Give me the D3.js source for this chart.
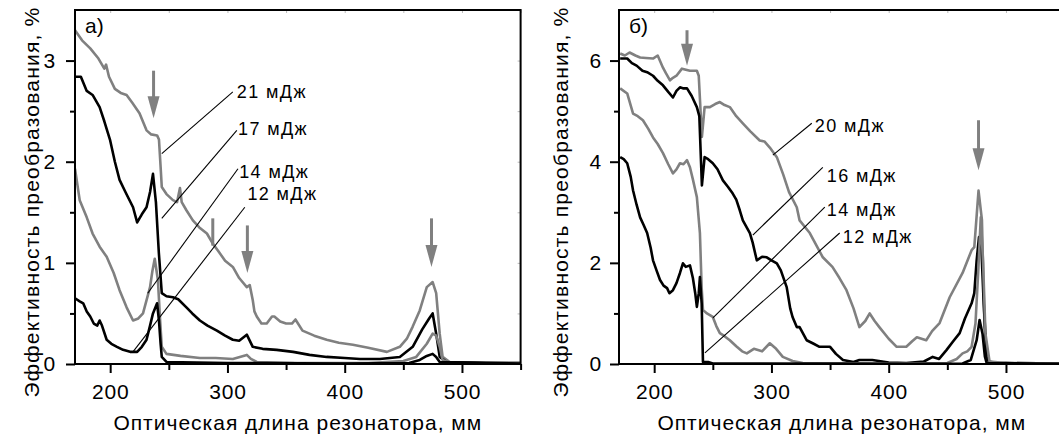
<!DOCTYPE html>
<html>
<head>
<meta charset="utf-8">
<script src="https://cdn.jsdelivr.net/npm/d3@7/dist/d3.min.js"></script>
<style>
  body { margin: 0; background: #fff; }
  svg { font-family: "Liberation Sans", Arial, sans-serif; }
</style>
</head>
<body>
<div id="chart"></div>
<script>
// ---- data (x: optical cavity length, mm; y: efficiency, %)
const xTicks = [200, 300, 400, 500];
const yTicksA = [0, 1, 2, 3];
const yTicksB = [0, 2, 4, 6];

// panel a)
const a21 = [[170,3.30],[176,3.20],[183,3.12],[190,3.02],[195,2.92],[196.5,2.96],[199,2.84],[204,2.72],[209,2.68],[214,2.66],[219,2.58],[225,2.48],[231,2.31],[235,2.27],[240,2.26],[241.6,2.22],[243,1.95],[244,1.75],[248,1.68],[253.5,1.62],[257,1.60],[259.5,1.74],[261,1.60],[265,1.52],[270.5,1.42],[276,1.35],[282.5,1.29],[287.5,1.19],[292,1.12],[298,1.02],[304.6,0.96],[310,0.85],[316.5,0.76],[319,0.78],[321.6,0.63],[323,0.52],[325,0.47],[329,0.40],[333.5,0.40],[338,0.47],[340,0.47],[345,0.42],[350,0.40],[355,0.40],[358,0.44],[364,0.33],[374,0.28],[384.6,0.24],[395,0.21],[407,0.19],[420,0.16],[436,0.12],[447,0.17],[453,0.25],[458,0.37],[464,0.53],[470,0.76],[475,0.81],[478,0.70],[481,0.30],[483.5,0.07],[489.5,0.02],[520,0.01],[550,0.01]];
const a17 = [[170,2.84],[175,2.84],[180,2.70],[185,2.66],[191,2.54],[195,2.40],[200,2.21],[204,2.00],[208,1.82],[213,1.70],[219.5,1.55],[223,1.40],[227,1.48],[231,1.55],[234,1.70],[236.5,1.88],[239,1.60],[241.5,1.10],[244,0.70],[248,0.67],[253.5,0.66],[258,0.64],[265,0.56],[270,0.50],[276.5,0.43],[283,0.38],[291,0.33],[298,0.28],[304.6,0.24],[310,0.23],[316.5,0.29],[321.6,0.17],[330,0.15],[342,0.14],[356,0.12],[370,0.09],[384.6,0.07],[400,0.06],[413,0.05],[430,0.05],[447,0.07],[458,0.17],[466,0.34],[472,0.45],[475,0.50],[478,0.30],[481,0.07],[487,0.02],[520,0.01],[550,0.01]];
const a14 = [[170,1.93],[174,1.62],[180,1.45],[185,1.29],[191,1.16],[197,1.06],[203,0.90],[208,0.73],[214,0.56],[219.5,0.43],[224,0.45],[228,0.50],[234,0.76],[236,0.92],[238,1.04],[240.7,0.83],[242.5,0.45],[244,0.17],[248,0.10],[260,0.08],[276.5,0.06],[290,0.06],[304.6,0.05],[316.5,0.09],[320,0.05],[325,0.02],[360,0.01],[420,0.01],[450,0.03],[461,0.07],[470,0.20],[475,0.30],[478,0.28],[481,0.17],[483.5,0.04],[490,0.01],[550,0.01]];
const a12 = [[170,0.65],[174,0.62],[177,0.60],[180,0.52],[183,0.47],[186,0.40],[189,0.38],[191,0.43],[193,0.38],[197,0.24],[201,0.20],[205.8,0.17],[211,0.14],[217,0.12],[223,0.12],[227,0.17],[231,0.24],[234,0.38],[236.5,0.50],[240,0.60],[241.6,0.43],[243,0.20],[244,0.07],[248,0.02],[300,0.01],[400,0.005],[455,0.01],[464,0.04],[470,0.08],[475,0.10],[478,0.07],[481,0.02],[550,0.005]];

// panel б)
const b20 = [[171,6.14],[175,6.10],[179,6.16],[184,6.10],[188,6.06],[193,6.05],[199,6.04],[203,6.10],[207.5,5.86],[210,5.75],[213.5,5.61],[216,5.66],[219,5.70],[223.7,5.84],[227,5.82],[230.5,5.80],[233,5.80],[236.4,5.80],[238,5.70],[240.7,4.49],[243,5.08],[247.5,5.08],[252,5.14],[256,5.18],[260,5.12],[264.5,5.08],[270,4.90],[275.6,4.76],[282,4.60],[290,4.42],[294,4.40],[298.6,4.28],[304.6,4.09],[310,3.75],[315,3.40],[321.6,3.10],[324,2.84],[332.7,2.59],[343.8,2.11],[352,1.92],[358,1.70],[364,1.46],[370,1.10],[375,0.73],[380,0.85],[383.8,1.0],[388,0.85],[392,0.73],[400,0.50],[406.8,0.34],[415,0.34],[420,0.45],[424,0.53],[432,0.47],[437,0.65],[443.4,0.81],[452,1.32],[463,1.80],[470.7,2.25],[473,2.31],[476.6,3.43],[479.5,2.85],[481.7,0.73],[483.5,0.08],[490,0.02],[500,0.03],[510,0.01],[550,0.01]];
const b16 = [[171,6.04],[177,6.04],[181,5.95],[185,5.90],[190,5.80],[194,5.77],[199,5.70],[203,5.60],[207.5,5.51],[212,5.38],[216,5.27],[219,5.40],[222,5.47],[225,5.45],[228,5.45],[232,5.30],[236.4,5.08],[238.5,4.90],[240.7,3.53],[243,4.09],[246,4.05],[250,3.97],[254,3.85],[258.6,3.63],[263,3.50],[267,3.37],[270,3.25],[273,3.04],[275.6,2.84],[281.6,2.59],[284,2.40],[287.5,2.05],[292,2.12],[296,2.11],[300,2.05],[304.6,1.99],[308,1.85],[313,1.52],[316,1.10],[318,0.93],[321.6,0.73],[324,0.73],[330,0.47],[336,0.40],[341,0.34],[350,0.34],[355,0.20],[361,0.08],[370,0.04],[375,0.08],[386,0.08],[400,0.03],[415,0.02],[430,0.05],[437.5,0.14],[443,0.10],[449.4,0.28],[455,0.45],[460.5,0.61],[465,0.90],[470.7,1.20],[473,1.40],[475,2.05],[477,2.51],[479,2.31],[481,1.20],[483.5,0.15],[486,0.02],[550,0.01]];
const b14 = [[171,5.45],[177,5.35],[182,4.95],[186,4.90],[190.4,4.82],[195,4.65],[199,4.48],[203,4.35],[207.5,4.17],[212,3.95],[216,3.77],[219,3.85],[222,3.97],[225,3.95],[228,4.03],[230.5,3.89],[233,3.65],[236.4,3.30],[239,2.59],[240.5,1.50],[241.6,1.07],[245,1.00],[250,0.93],[253,0.75],[256,0.61],[260,0.55],[264.5,0.47],[270,0.35],[275,0.25],[279,0.21],[285,0.30],[292,0.25],[298.6,0.41],[304,0.30],[309.7,0.14],[318,0.06],[326.7,0.02],[400,0.01],[450,0.02],[458,0.10],[463,0.21],[467,0.25],[470.7,0.34],[474,0.80],[476.5,1.90],[478.5,2.90],[480.5,2.00],[482.5,0.60],[486,0.05],[500,0.02],[550,0.01]];
const b12 = [[171,4.09],[174,4.05],[177,3.97],[180,3.70],[182,3.43],[185,3.15],[188,2.90],[191,2.75],[194,2.59],[197,2.30],[199,2.05],[202,1.85],[205,1.66],[208,1.55],[211,1.50],[213,1.40],[216,1.46],[219,1.60],[222,1.80],[224.5,1.99],[227,1.92],[230.5,1.95],[233,1.70],[235,1.40],[236.4,1.13],[238,1.40],[239,1.72],[240.5,1.20],[241.6,0.04],[246,0.04],[250,0.01],[400,0.005],[463,0.01],[470,0.08],[475,0.47],[477.5,0.87],[480,0.60],[482,0.15],[483.5,0.02],[550,0.005]];

// energy labels: [label, curve point, line end, text point]
const notesA = [
  ["21 мДж", [244, 2.08], [304.6, 2.69], [308, 2.63]],
  ["17 мДж", [244, 1.44], [308, 2.31], [309, 2.26]],
  ["14 мДж", [232, 0.70], [309, 1.93], [310, 1.84]],
  ["12 мДж", [219.4, 0.12], [314.8, 1.55], [317, 1.62]]
];
const notesB = [
  ["20 мДж", [301.2, 4.13], [334.4, 4.76], [337, 4.58]],
  ["16 мДж", [284.1, 2.55], [343.8, 3.89], [347.2, 3.59]],
  ["14 мДж", [250.1, 0.91], [345.5, 3.10], [347.2, 2.92]],
  ["12 мДж", [243.3, 0.22], [358.2, 2.59], [360.8, 2.39]]
];
// arrows: [x, yFrom, yTo, head?]
const arrowsA = [[237, 2.90, 2.43, 1], [287.5, 1.44, 1.17, 0], [317, 1.37, 0.90, 1], [474, 1.44, 0.96, 1]];
const arrowsB = [[228, 6.6, 5.9, 1], [476.6, 4.82, 3.83, 1]];

const GRAY = "#808080";
const W = 1059, H = 438;
const plotTop = 10, plotBottom = 364;

const svg = d3.select("#chart").append("svg")
  .attr("width", W).attr("height", H);

function panel(opt) {
  const x = d3.scaleLinear().domain([170, 550]).range([opt.left, opt.left + 445.6]);
  const y = d3.scaleLinear().domain([0, opt.ymax]).range([plotBottom, plotTop]);
  const g = svg.append("g");

  const clipId = "clip" + opt.id;
  svg.append("clipPath").attr("id", clipId).append("rect")
    .attr("x", x.range()[0]).attr("y", plotTop)
    .attr("width", x.range()[1] - x.range()[0]).attr("height", plotBottom - plotTop);

  const line = d3.line().x(d => x(d[0])).y(d => y(d[1]));
  const plot = g.append("g").attr("clip-path", `url(#${clipId})`);
  opt.curves.forEach(c => {
    plot.append("path").datum(c.data)
      .attr("d", line)
      .attr("fill", "none")
      .attr("stroke", c.color)
      .attr("stroke-width", 2.6)
      .attr("stroke-linejoin", "round");
  });

  // annotation lines + labels
  opt.notes.forEach(n => {
    g.append("line")
      .attr("x1", x(n[1][0])).attr("y1", y(n[1][1]))
      .attr("x2", x(n[2][0])).attr("y2", y(n[2][1]))
      .attr("stroke", "#000").attr("stroke-width", 1.1);
    g.append("text")
      .attr("x", x(n[3][0])).attr("y", y(n[3][1]))
      .attr("font-size", 18).attr("letter-spacing", 1.4).text(n[0]);
  });

  // arrows
  opt.arrows.forEach(a => {
    const ax = x(a[0]), y0 = y(a[1]), y1 = y(a[2]);
    g.append("line")
      .attr("x1", ax).attr("x2", ax).attr("y1", y0).attr("y2", a[3] ? y1 - 18 : y1)
      .attr("stroke", GRAY).attr("stroke-width", 3);
    if (a[3]) {
      g.append("path")
        .attr("d", `M${ax - 6},${y1 - 22}L${ax + 6},${y1 - 22}L${ax},${y1}Z`)
        .attr("fill", GRAY);
    }
  });

  // axes
  const xMinor = d3.range(250, 551, 100);
  const yMinor = d3.range(opt.ystep / 2, opt.ymax, opt.ystep);

  g.append("g").attr("transform", `translate(0,${plotBottom})`)
    .call(d3.axisBottom(x).tickValues(xTicks).tickSize(9).tickPadding(11).tickSizeOuter(0));
  g.append("g").attr("transform", `translate(0,${plotBottom})`)
    .call(d3.axisBottom(x).tickValues(xMinor).tickSize(6).tickFormat("").tickSizeOuter(0));
  g.append("g").attr("transform", `translate(${opt.left},0)`)
    .call(d3.axisLeft(y).tickValues(opt.yTicks).tickFormat(d3.format("d"))
      .tickSize(9).tickPadding(opt.ypad).tickSizeOuter(0));
  g.append("g").attr("transform", `translate(${opt.left},0)`)
    .call(d3.axisLeft(y).tickValues(yMinor).tickSize(5).tickFormat("").tickSizeOuter(0));
  // mirrored faint ticks on top and right
  g.append("g").attr("class", "mirror").attr("transform", `translate(0,${plotTop})`)
    .call(d3.axisBottom(x).tickValues(xTicks.concat(xMinor)).tickSize(3).tickFormat("").tickSizeOuter(0));
  g.append("g").attr("class", "mirror").attr("transform", `translate(${x.range()[1]},0)`)
    .call(d3.axisLeft(y).tickValues(opt.yTicks.concat(yMinor)).tickSize(3).tickFormat("").tickSizeOuter(0));

  g.selectAll(".domain").remove();
  g.selectAll(".tick line").attr("stroke", "#000").attr("stroke-width", 2);
  g.selectAll(".mirror .tick line").attr("stroke", "#bbb").attr("stroke-width", 1);
  g.selectAll(".tick text").attr("font-size", 21).attr("letter-spacing", 0.8)
    .attr("font-family", null).attr("fill", "#000");

  // frame
  g.append("rect")
    .attr("x", x.range()[0]).attr("y", plotTop)
    .attr("width", x.range()[1] - x.range()[0]).attr("height", plotBottom - plotTop)
    .attr("fill", "none").attr("stroke", "#000").attr("stroke-width", 2);

  // titles
  g.append("text")
    .attr("x", (x.range()[0] + x.range()[1]) / 2).attr("y", 430)
    .attr("text-anchor", "middle").attr("font-size", 21).attr("letter-spacing", 1)
    .text("Оптическая длина резонатора, мм");
  g.append("text")
    .attr("transform", `translate(${opt.ylabX},202) rotate(-90)`)
    .attr("text-anchor", "middle").attr("font-size", 21).attr("letter-spacing", 1.2)
    .text("Эффективность преобразования, %");
  g.append("text")
    .attr("x", opt.left + 10).attr("y", 33)
    .attr("font-size", 21).text(opt.tag);
}

panel({
  id: "A", left: 75, ymax: 3.5, ystep: 1, yTicks: yTicksA, ylabX: 39, ypad: 10, tag: "а)",
  curves: [
    { data: a21, color: GRAY }, { data: a17, color: "#000" },
    { data: a14, color: GRAY }, { data: a12, color: "#000" }
  ],
  notes: notesA, arrows: arrowsA
});

panel({
  id: "B", left: 619, ymax: 7, ystep: 2, yTicks: yTicksB, ylabX: 568, ypad: 8, tag: "б)",
  curves: [
    { data: b20, color: GRAY }, { data: b16, color: "#000" },
    { data: b14, color: GRAY }, { data: b12, color: "#000" }
  ],
  notes: notesB, arrows: arrowsB
});
</script>
</body>
</html>
